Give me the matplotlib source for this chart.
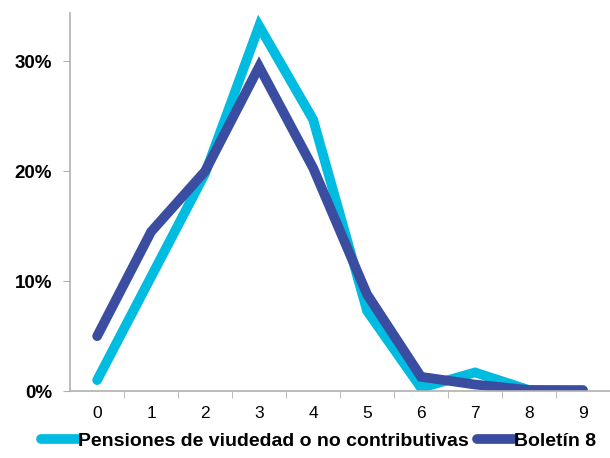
import numpy as np
import matplotlib.pyplot as plt
from matplotlib.ticker import FuncFormatter

plt.rcParams['font.family'] = ['Liberation Sans', 'DejaVu Sans']

categories = ['0', '1', '2', '3', '4', '5', '6', '7', '8', '9']
pensiones = [1.0, 10.4, 19.8, 33.2, 24.7, 7.3, 0.3, 1.7, 0.1, 0.0]
boletin = [5.0, 14.5, 20.0, 29.5, 20.3, 8.8, 1.3, 0.6, 0.1, 0.1]

cyan = '#00BCE0'
navy = '#3A4DA0'

fig = plt.figure(figsize=(6.1, 4.58), dpi=100)
ax = fig.add_axes([0.115, 0.146, 0.885, 0.826])

x = np.arange(len(categories))
ax.plot(x, pensiones, color=cyan, lw=7, solid_capstyle='round',
        solid_joinstyle='miter', label='Pensiones de viudedad o no contributivas')
ax.plot(x, boletin, color=navy, lw=7, solid_capstyle='round',
        solid_joinstyle='miter', label='Boletín 8')

ax.set_xlim(-0.5, 9.5)
ax.set_ylim(0, 34.4)
ax.set_yticks([0, 10, 20, 30])
ax.yaxis.set_major_formatter(FuncFormatter(lambda v, p: f'{v:.0f}%'))
ax.set_xticks(x)
ax.set_xticklabels(categories, fontsize=12.5)
ax.set_xticks(np.arange(0.5, 9.5, 1), minor=True)
ax.tick_params(axis='x', which='major', length=0, pad=11)
ax.tick_params(axis='x', which='minor', length=5, color='#B0B0B0')
ax.tick_params(axis='y', length=5, color='#B0B0B0', pad=8)
for lbl in ax.get_yticklabels():
    lbl.set_fontweight('bold')
    lbl.set_fontsize(13.5)

for s in ['top', 'right']:
    ax.spines[s].set_visible(False)
for s in ['left', 'bottom']:
    ax.spines[s].set_color('#B0B0B0')
    ax.spines[s].set_linewidth(1.2)

leg = fig.legend(loc='lower center', bbox_to_anchor=(0.522, -0.02), ncol=2,
                 frameon=False, handlelength=1.9, columnspacing=0.4,
                 handletextpad=0.0, prop={'weight': 'bold', 'size': 14})

fig.savefig('out.png', dpi=100)
